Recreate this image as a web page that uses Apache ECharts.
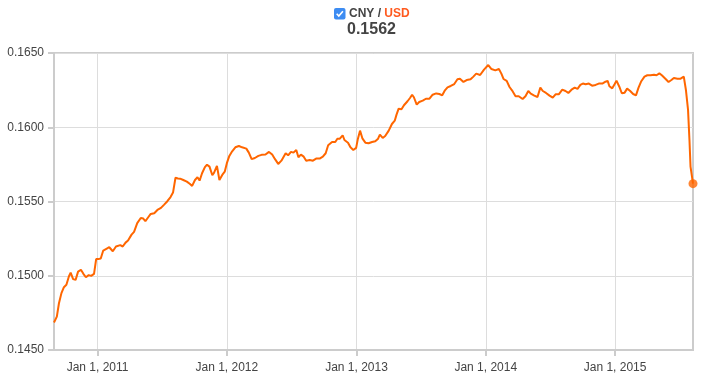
<!DOCTYPE html>
<html>
<head>
<meta charset="utf-8">
<script src="https://cdn.jsdelivr.net/npm/echarts@6/dist/echarts.min.js"></script>
<style>html,body{margin:0;padding:0;background:#fff}#c{width:705px;height:385px}</style>
</head>
<body>
<div id="c"></div>
<script>
const pairLabel = ['CNY', 'USD'];
const latestLabel = '0.1562';
const xTickDates = ['2011-01-01', '2012-01-01', '2013-01-01', '2014-01-01', '2015-01-01'];
const xTickLabels = ['Jan 1, 2011', 'Jan 1, 2012', 'Jan 1, 2013', 'Jan 1, 2014', 'Jan 1, 2015'];
const yTickLabels = ['0.1450', '0.1500', '0.1550', '0.1600', '0.1650'];

const dates = [
'2010-08-31','2010-09-08','2010-09-14','2010-09-21','2010-09-28','2010-10-05','2010-10-12','2010-10-17','2010-10-24','2010-10-31',
'2010-11-07','2010-11-15','2010-11-22','2010-11-29','2010-12-07','2010-12-14','2010-12-22','2010-12-28','2011-01-03','2011-01-10',
'2011-01-17','2011-01-27','2011-02-03','2011-02-13','2011-02-22','2011-03-06','2011-03-13','2011-03-21','2011-03-28','2011-04-07',
'2011-04-14','2011-04-23','2011-05-03','2011-05-10','2011-05-16','2011-05-24','2011-05-31','2011-06-10','2011-06-19','2011-06-29',
'2011-07-08','2011-07-17','2011-07-26','2011-08-02','2011-08-09','2011-08-16','2011-08-22','2011-08-31','2011-09-10','2011-09-19',
'2011-09-25','2011-10-03','2011-10-10','2011-10-16','2011-10-23','2011-10-31','2011-11-06','2011-11-13','2011-11-21','2011-11-26',
'2011-12-04','2011-12-11','2011-12-19','2011-12-26','2012-01-01','2012-01-08','2012-01-16','2012-01-25','2012-02-04','2012-02-13',
'2012-02-25','2012-03-03','2012-03-11','2012-03-20','2012-03-30','2012-04-08','2012-04-19','2012-04-29','2012-05-08','2012-05-16',
'2012-05-25','2012-06-03','2012-06-15','2012-06-22','2012-06-30','2012-07-07','2012-07-15','2012-07-21','2012-07-28','2012-08-05',
'2012-08-12','2012-08-22','2012-08-31','2012-09-09','2012-09-19','2012-09-28','2012-10-06','2012-10-13','2012-10-24','2012-11-02',
'2012-11-08','2012-11-15','2012-11-23','2012-11-28','2012-12-08','2012-12-15','2012-12-23','2012-12-31','2013-01-05','2013-01-11',
'2013-01-18','2013-01-26','2013-02-04','2013-02-14','2013-02-23','2013-03-03','2013-03-08','2013-03-16','2013-03-23','2013-04-02',
'2013-04-11','2013-04-19','2013-04-24','2013-04-30','2013-05-08','2013-05-15','2013-05-25','2013-06-01','2013-06-07','2013-06-12',
'2013-06-20','2013-06-27','2013-07-07','2013-07-16','2013-07-26','2013-08-04','2013-08-14','2013-08-23','2013-08-31','2013-09-07',
'2013-09-15','2013-09-24','2013-10-04','2013-10-13','2013-10-20','2013-10-30','2013-11-08','2013-11-19','2013-11-27','2013-12-05',
'2013-12-16','2013-12-27','2014-01-08','2014-01-17','2014-01-28','2014-02-07','2014-02-14','2014-02-20','2014-03-01','2014-03-09',
'2014-03-16','2014-03-26','2014-04-04','2014-04-15','2014-04-23','2014-05-01','2014-05-08','2014-05-18','2014-05-27','2014-06-04',
'2014-06-11','2014-06-20','2014-06-30','2014-07-09','2014-07-17','2014-07-26','2014-08-05','2014-08-14','2014-08-22','2014-08-31',
'2014-09-09','2014-09-17','2014-09-25','2014-10-02','2014-10-10','2014-10-19','2014-10-28','2014-11-07','2014-11-16','2014-11-26',
'2014-12-05','2014-12-11','2014-12-16','2014-12-24','2014-12-31','2015-01-05','2015-01-13','2015-01-20','2015-01-28','2015-02-04',
'2015-02-12','2015-02-21','2015-03-01','2015-03-08','2015-03-16','2015-03-25','2015-04-02','2015-04-11','2015-04-21','2015-04-28',
'2015-05-06','2015-05-13','2015-05-23','2015-06-01','2015-06-09','2015-06-16','2015-06-26','2015-07-05','2015-07-14','2015-07-20',
'2015-07-26','2015-07-30','2015-08-02','2015-08-09'
];

const rates = [
0.14685,0.14725,0.14815,0.14883,0.14923,0.14939,0.14995,0.15021,0.14977,0.14972,
0.15028,0.15040,0.15013,0.14990,0.15004,0.14999,0.15013,0.15112,0.15112,0.15116,
0.15170,0.15183,0.15192,0.15165,0.15197,0.15206,0.15197,0.15223,0.15237,0.15277,
0.15295,0.15354,0.15389,0.15385,0.15367,0.15394,0.15416,0.15421,0.15443,0.15457,
0.15479,0.15502,0.15530,0.15560,0.15660,0.15655,0.15654,0.15645,0.15634,0.15618,
0.15605,0.15645,0.15663,0.15641,0.15690,0.15731,0.15748,0.15735,0.15677,0.15694,
0.15740,0.15645,0.15679,0.15701,0.15758,0.15807,0.15838,0.15865,0.15874,0.15865,
0.15856,0.15829,0.15785,0.15793,0.15807,0.15814,0.15816,0.15834,0.15816,0.15785,
0.15753,0.15775,0.15825,0.15811,0.15834,0.15829,0.15847,0.15798,0.15816,0.15802,
0.15775,0.15780,0.15775,0.15789,0.15789,0.15802,0.15825,0.15879,0.15901,0.15901,
0.15923,0.15923,0.15946,0.15914,0.15896,0.15865,0.15847,0.15861,0.15923,0.15977,
0.15923,0.15896,0.15892,0.15901,0.15906,0.15923,0.15950,0.15928,0.15941,0.15977,
0.16022,0.16044,0.16085,0.16125,0.16121,0.16148,0.16175,0.16197,0.16219,0.16202,
0.16152,0.16170,0.16179,0.16192,0.16192,0.16219,0.16228,0.16224,0.16215,0.16246,
0.16269,0.16278,0.16291,0.16323,0.16327,0.16305,0.16318,0.16323,0.16341,0.16361,
0.16352,0.16388,0.16419,0.16392,0.16383,0.16392,0.16361,0.16325,0.16312,0.16271,
0.16249,0.16209,0.16209,0.16190,0.16209,0.16244,0.16226,0.16213,0.16204,0.16267,
0.16244,0.16231,0.16213,0.16199,0.16222,0.16222,0.16253,0.16244,0.16231,0.16253,
0.16267,0.16258,0.16285,0.16294,0.16289,0.16294,0.16280,0.16285,0.16294,0.16294,
0.16307,0.16312,0.16276,0.16262,0.16291,0.16314,0.16273,0.16229,0.16233,0.16260,
0.16246,0.16224,0.16215,0.16265,0.16310,0.16341,0.16350,0.16350,0.16354,0.16350,
0.16363,0.16350,0.16327,0.16305,0.16318,0.16332,0.16327,0.16327,0.16341,0.16251,
0.16117,0.15915,0.15735,0.15620
];

function toTs(s) { return echarts.time.parse(s).getTime(); }
const lineData = dates.map((d, i) => [toTs(d), rates[i]]);
const lastPoint = [lineData[lineData.length - 1]];
const tickValues = xTickDates.map(toTs);

const chart = echarts.init(document.getElementById('c'), null, { renderer: 'canvas' });
const FONT = '"Liberation Sans", Arial, Helvetica, sans-serif';
chart.setOption({
  animation: false,
  backgroundColor: '#ffffff',
  title: [{
    text: '{a|' + pairLabel[0] + ' / }{b|' + pairLabel[1] + '}',
    left: 349, top: 8, padding: 0,
    textStyle: {
      rich: {
        a: { fontFamily: FONT, fontSize: 12, fontWeight: 'bold', color: '#444444' },
        b: { fontFamily: FONT, fontSize: 12, fontWeight: 'bold', color: '#ff5a1f' }
      }
    }
  }, {
    text: latestLabel,
    left: 347, top: 22, padding: 0,
    textStyle: { fontFamily: FONT, fontSize: 16, fontWeight: 'bold', color: '#444444' }
  }],
  graphic: [{
    type: 'group', left: 334, top: 8,
    children: [
      { type: 'rect', shape: { x: 0, y: 0, width: 11.5, height: 11.5, r: 2 }, style: { fill: '#3d8cf2' } },
      { type: 'polyline', shape: { points: [[2.7, 5.8], [4.8, 8.1], [8.9, 3.3]] }, style: { stroke: '#ffffff', lineWidth: 1.6, fill: null } }
    ]
  }],
  grid: { left: 54, right: 12, top: 53, bottom: 35, show: true, borderColor: '#cccccc', borderWidth: 2, backgroundColor: 'transparent' },
  xAxis: {
    type: 'value',
    min: 'dataMin', max: 'dataMax',
    axisLine: { show: true, lineStyle: { color: '#cccccc', width: 2 } },
    axisTick: { show: true, length: 6, lineStyle: { color: '#cccccc', width: 2 }, customValues: tickValues },
    axisLabel: {
      customValues: tickValues,
      margin: 12, fontFamily: FONT, fontSize: 12, color: '#444444',
      formatter: function (v) {
        const idx = tickValues.indexOf(v);
        return idx >= 0 ? xTickLabels[idx] : '';
      }
    },
    splitLine: { show: true, lineStyle: { color: '#dddddd', width: 1 } }
  },
  yAxis: {
    type: 'value',
    min: 0.145, max: 0.165, interval: 0.005,
    axisLine: { show: true, lineStyle: { color: '#cccccc', width: 2 } },
    axisTick: { show: true, length: 6, lineStyle: { color: '#cccccc', width: 2 } },
    axisLabel: {
      margin: 10, fontFamily: FONT, fontSize: 12, color: '#444444',
      formatter: function (v) {
        const s = v.toFixed(4);
        return yTickLabels.indexOf(s) >= 0 ? s : '';
      }
    },
    splitLine: { show: true, lineStyle: { color: '#dddddd', width: 1 } }
  },
  series: [{
    type: 'line',
    data: lineData,
    showSymbol: false,
    symbol: 'none',
    lineStyle: { color: '#ff6600', width: 2 },
    z: 3
  }, {
    type: 'scatter',
    data: lastPoint,
    symbol: 'circle',
    symbolSize: 9,
    itemStyle: { color: '#ff6600' },
    z: 4
  }]
});
</script>
</body>
</html>
